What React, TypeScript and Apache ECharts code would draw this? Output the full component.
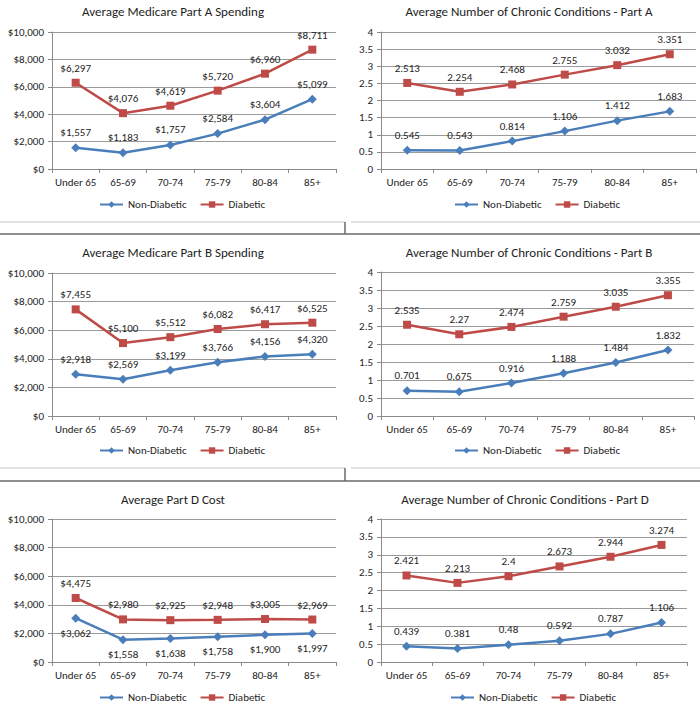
import React, { useEffect, useRef } from "react";
import * as echarts from "echarts";

const categories = ["Under 65", "65-69", "70-74", "75-79", "80-84", "85+"];
const seriesNames = ["Non-Diabetic", "Diabetic"];

const partANonDiabetic = [1557, 1183, 1757, 2584, 3604, 5099];
const partADiabetic = [6297, 4076, 4619, 5720, 6960, 8711];
const chronicANonDiabetic = [0.545, 0.543, 0.814, 1.106, 1.412, 1.683];
const chronicADiabetic = [2.513, 2.254, 2.468, 2.755, 3.032, 3.351];
const partBNonDiabetic = [2918, 2569, 3199, 3766, 4156, 4320];
const partBDiabetic = [7455, 5100, 5512, 6082, 6417, 6525];
const chronicBNonDiabetic = [0.701, 0.675, 0.916, 1.188, 1.484, 1.832];
const chronicBDiabetic = [2.535, 2.27, 2.474, 2.759, 3.035, 3.355];
const partDNonDiabetic = [3062, 1558, 1638, 1758, 1900, 1997];
const partDDiabetic = [4475, 2980, 2925, 2948, 3005, 2969];
const chronicDNonDiabetic = [0.439, 0.381, 0.48, 0.592, 0.787, 1.106];
const chronicDDiabetic = [2.421, 2.213, 2.4, 2.673, 2.944, 3.274];

const chartTitles = [
  "Average Medicare Part A Spending",
  "Average Number of Chronic Conditions - Part A",
  "Average Medicare Part B Spending",
  "Average Number of Chronic Conditions - Part B",
  "Average Part D Cost",
  "Average Number of Chronic Conditions - Part D",
];

const dollarAxis = { min: 0, max: 10000, interval: 2000 };
const countAxis = { min: 0, max: 4, interval: 0.5 };

const panelData = [
  { kind: "dollar", non: partANonDiabetic, diab: partADiabetic, nonPos: "top" },
  { kind: "count", non: chronicANonDiabetic, diab: chronicADiabetic, nonPos: "top" },
  { kind: "dollar", non: partBNonDiabetic, diab: partBDiabetic, nonPos: "top" },
  { kind: "count", non: chronicBNonDiabetic, diab: chronicBDiabetic, nonPos: "top" },
  { kind: "dollar", non: partDNonDiabetic, diab: partDDiabetic, nonPos: "bottom" },
  { kind: "count", non: chronicDNonDiabetic, diab: chronicDDiabetic, nonPos: "top" },
];

// layout (pixels)
const layouts = [
  { grid: { left: 52, top: 32, width: 284, height: 137 }, title: [173, 11], legend: [99, 206] },
  { grid: { left: 381, top: 32, width: 315, height: 137 }, title: [529, 11], legend: [454, 206] },
  { grid: { left: 52, top: 273, width: 284, height: 143 }, title: [173, 252], legend: [99, 452] },
  { grid: { left: 381, top: 272, width: 313, height: 144 }, title: [529, 252], legend: [454, 452] },
  { grid: { left: 52, top: 519, width: 284, height: 143 }, title: [173, 499], legend: [99, 699] },
  { grid: { left: 381, top: 519, width: 306, height: 143 }, title: [525, 499], legend: [450, 699] },
];

const FONT = "Carlito, Calibri, 'Liberation Sans', Arial, sans-serif";
const BLUE = "#4A7EBB";
const RED = "#BE4B48";
const TEXT = "#1e1e1e";
const AXIS = "#8a8a8a";
const FS = 11;

const fmtDollar = (v: number) => "$" + Math.round(v).toLocaleString("en-US");
const fmtCount = (v: number) => String(v);

function buildOption() {
  const grid: any[] = [];
  const xAxis: any[] = [];
  const yAxis: any[] = [];
  const series: any[] = [];
  const legend: any[] = [];
  const graphic: any[] = [];

  panelData.forEach((p, i) => {
    const L = layouts[i];
    const fmt = p.kind === "dollar" ? fmtDollar : fmtCount;
    const ax = p.kind === "dollar" ? dollarAxis : countAxis;
    grid.push({ ...L.grid, containLabel: false });
    xAxis.push({
      type: "category",
      gridIndex: i,
      data: categories,
      boundaryGap: true,
      axisLine: { show: true, lineStyle: { color: AXIS, width: 1 } },
      axisTick: { show: true, length: 4, lineStyle: { color: AXIS } },
      axisLabel: { color: TEXT, fontSize: FS, margin: 8, fontFamily: FONT, interval: 0 },
      splitLine: { show: false },
    });
    yAxis.push({
      type: "value",
      gridIndex: i,
      min: ax.min,
      max: ax.max,
      interval: ax.interval,
      axisLine: { show: true, lineStyle: { color: AXIS, width: 1 } },
      axisTick: { show: true, length: 4, lineStyle: { color: AXIS } },
      axisLabel: {
        color: TEXT,
        fontSize: FS,
        margin: 8,
        fontFamily: FONT,
        formatter: (v: number) => fmt(v),
      },
      splitLine: { show: true, lineStyle: { color: "#9a9a9a", width: 1 } },
    });
    series.push({
      type: "line",
      name: seriesNames[0],
      xAxisIndex: i,
      yAxisIndex: i,
      data: p.non,
      symbol: "diamond",
      symbolSize: 9,
      lineStyle: { color: BLUE, width: 2.5 },
      itemStyle: { color: BLUE },
      label: {
        show: true,
        position: p.nonPos,
        distance: 5,
        color: TEXT,
        fontSize: FS,
        fontFamily: FONT,
        formatter: (d: any) => fmt(d.value),
      },
      z: 3,
    });
    series.push({
      type: "line",
      name: seriesNames[1],
      xAxisIndex: i,
      yAxisIndex: i,
      data: p.diab,
      symbol: "rect",
      symbolSize: 8,
      lineStyle: { color: RED, width: 2.5 },
      itemStyle: { color: RED },
      label: {
        show: true,
        position: "top",
        distance: 5,
        color: TEXT,
        fontSize: FS,
        fontFamily: FONT,
        formatter: (d: any) => fmt(d.value),
      },
      z: 3,
    });
    legend.push({
      data: seriesNames,
      left: L.legend[0],
      top: L.legend[1] - 7,
      padding: 0,
      itemWidth: 23,
      itemHeight: 8,
      itemGap: 13,
      selectedMode: false,
      textStyle: { color: TEXT, fontSize: FS, fontFamily: FONT },
    });
    graphic.push({
      type: "text",
      x: L.title[0],
      y: L.title[1],
      style: {
        text: chartTitles[i],
        fill: TEXT,
        fontSize: 13,
        fontFamily: FONT,
        align: "center",
        verticalAlign: "middle",
      },
    });
  });

  const light = "#c8c8c8";
  const dark = "#6a6a6a";
  [
    [222, 234],
    [468, 481],
  ].forEach(([yl, yd]) => {
    graphic.push({ type: "line", shape: { x1: 0, y1: yl, x2: 345, y2: yl }, style: { stroke: light, lineWidth: 1 } });
    graphic.push({ type: "line", shape: { x1: 351, y1: yl, x2: 700, y2: yl }, style: { stroke: light, lineWidth: 1 } });
    graphic.push({ type: "line", shape: { x1: 0, y1: yd, x2: 700, y2: yd }, style: { stroke: dark, lineWidth: 1.5 } });
    graphic.push({ type: "line", shape: { x1: 345, y1: yl, x2: 345, y2: yd }, style: { stroke: dark, lineWidth: 1.5 } });
  });

  return {
    animation: false,
    backgroundColor: "#ffffff",
    textStyle: { fontFamily: FONT },
    grid,
    xAxis,
    yAxis,
    series,
    legend,
    graphic,
  };
}

export default function App() {
  const ref = useRef<HTMLDivElement>(null);
  useEffect(() => {
    document.body.style.margin = "0";
    if (!ref.current) return;
    const chart = echarts.init(ref.current, undefined, { renderer: "svg" });
    chart.setOption(buildOption() as any);
    return () => chart.dispose();
  }, []);
  return <div ref={ref} style={{ width: 700, height: 709 }} />;
}
